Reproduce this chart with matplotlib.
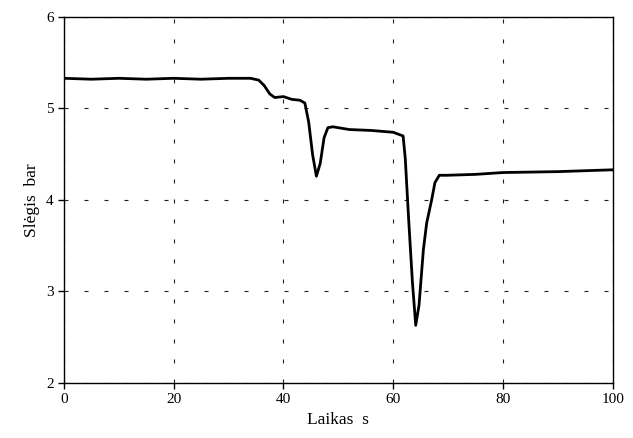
import numpy as np
import matplotlib.pyplot as plt

# pressure trace
t = [0, 5, 10, 15, 20, 25, 30, 34, 35.5, 36.5, 37.5, 38.4, 40, 41.5, 43, 43.9, 44.6,
     45.3, 46.0, 46.7, 47.4, 48.1, 49, 52, 56, 60, 61.8, 62.2, 62.8, 63.5, 64.1, 64.7,
     65.5, 66.1, 67, 67.6, 68.4, 69.7, 75, 80, 90, 100]
p = [5.33, 5.32, 5.33, 5.32, 5.33, 5.32, 5.33, 5.33, 5.31, 5.25, 5.16, 5.12, 5.13, 5.10, 5.09, 5.06, 4.85,
     4.50, 4.26, 4.40, 4.68, 4.79, 4.80, 4.77, 4.76, 4.74, 4.70, 4.45, 3.80, 3.10, 2.63, 2.85,
     3.46, 3.75, 4.00, 4.19, 4.27, 4.27, 4.28, 4.30, 4.31, 4.33]

xticks = [0, 20, 40, 60, 80, 100]
yticks = [2, 3, 4, 5, 6]

plt.rcParams['font.family'] = ['Liberation Serif', 'DejaVu Serif']

fig = plt.figure(figsize=(6.33, 4.38), dpi=100)
ax = fig.add_axes([0.101, 0.1256, 0.867, 0.8356])

ax.plot(t, p, color='black', lw=2.0, solid_joinstyle='round')

ax.set_xlim(0, 100)
ax.set_ylim(2, 6)
ax.set_xticks(xticks)
ax.set_yticks(yticks)
ax.grid(True, color='#222222', linestyle=(0, (3.6, 14.4)), linewidth=0.8)
ax.tick_params(direction='out', length=4, labelsize=11, width=1)
for s in ax.spines.values():
    s.set_linewidth(1.0)

ax.set_xlabel('Laikas  s', fontsize=12.5)
ax.set_ylabel('Slėgis  bar', fontsize=12.5)

fig.savefig('out.png', dpi=100)
